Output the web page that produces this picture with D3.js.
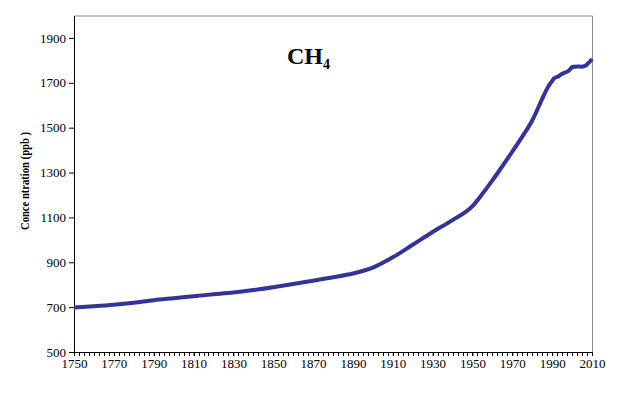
<!DOCTYPE html>
<html>
<head>
<meta charset="utf-8">
<script src="https://cdn.jsdelivr.net/npm/d3@7"></script>
<style>
  body { margin: 0; background: #fff; }
  svg text { font-family: 'Liberation Serif', 'Times New Roman', serif; fill: #000; }
</style>
</head>
<body>
<svg id="chart" width="620" height="397"></svg>
<script>
(function () {

'use strict';

var years = [1750, 1760, 1770, 1780, 1790, 1800, 1810, 1820, 1830, 1840,
             1850, 1860, 1870, 1880, 1890, 1900, 1910, 1920, 1930, 1940,
             1950, 1955, 1960, 1965, 1970, 1975, 1980, 1985, 1988, 1990,
             1991, 1993, 1995, 1997, 1998, 1999, 2000, 2001, 2003, 2005,
             2006, 2007, 2008, 2009, 2010];
var ch4 = [698, 704, 711, 720, 731, 740, 749, 757, 765, 776,
           789, 803, 818, 833, 850, 876, 922, 978, 1035, 1088,
           1150, 1205, 1265, 1328, 1393, 1460, 1532, 1628, 1682, 1708,
           1720, 1728, 1740, 1748, 1752, 1760, 1770, 1772, 1773, 1772,
           1774, 1778, 1787, 1795, 1807];
var xTicks = d3.range(1750, 2011, 20);
var yTicks = [500, 700, 900, 1100, 1300, 1500, 1700, 1900];

var lineColor = '#333399',
    margin = {top: 15.5, right: 28, bottom: 45, left: 74},
    width = 620 - margin.left - margin.right,
    height = 397 - margin.top - margin.bottom;

var svg = d3.select('#chart');
var g = svg.append('g')
    .attr('transform', 'translate(' + margin.left + ',' + margin.top + ')');

var x = d3.scaleLinear().domain([1750, 2010]).range([0, width]);
var y = d3.scaleLinear().domain([500, 2000]).range([height, 0]);

// top and right frame
g.append('path')
  .attr('d', 'M0.5,0.5H' + (width + 0.5) + 'V' + height)
  .attr('fill', 'none')
  .attr('stroke', '#888')
  .attr('stroke-width', 1);

// minor ticks every 2.5 years
g.append('g')
  .attr('transform', 'translate(0,' + height + ')')
  .selectAll('line')
  .data(d3.range(1750, 2010.1, 2.5))
  .enter()
  .append('line')
  .attr('x1', function(d) { return Math.round(x(d)) + 0.5; })
  .attr('x2', function(d) { return Math.round(x(d)) + 0.5; })
  .attr('y1', 0)
  .attr('y2', 4)
  .attr('stroke', '#000');

var xAxis = g.append('g')
  .attr('transform', 'translate(0,' + height + ')')
  .call(d3.axisBottom(x).tickValues(xTicks).tickFormat(d3.format('d')).tickSize(4).tickSizeOuter(0));

var yAxis = g.append('g')
  .call(d3.axisLeft(y).tickValues(yTicks).tickFormat(d3.format('d')).tickSize(5).tickSizeOuter(0));

[xAxis, yAxis].forEach(function (a) {
  a.attr('font-family', null).attr('font-size', null);
  a.select('.domain').attr('stroke', '#000');
  a.selectAll('.tick line').attr('stroke', '#000');
  a.selectAll('text')
    .style('font-family', "'Liberation Serif', serif")
    .style('font-size', '13px')
    .attr('fill', '#000');
});
xAxis.selectAll('text').attr('y', 7).attr('dy', '0.71em');
yAxis.selectAll('text').attr('x', -8);

var line = d3.line()
  .x(function(d, i) { return x(years[i]); })
  .y(function(d) { return y(d); })
  .curve(d3.curveMonotoneX);

g.append('path')
  .datum(ch4)
  .attr('d', line)
  .attr('fill', 'none')
  .attr('stroke', lineColor)
  .attr('stroke-width', 4)
  .attr('stroke-linejoin', 'round');

// title
var title = svg.append('text')
  .attr('x', 287)
  .attr('y', 64)
  .style('font-size', '24px')
  .style('font-weight', 'bold');
title.append('tspan').text('CH');
title.append('tspan').attr('dy', 5).style('font-size', '14px').text('4');

// y axis title
svg.append('text')
  .attr('transform', 'translate(29,181) rotate(-90)')
  .attr('text-anchor', 'middle')
  .attr('textLength', 98)
  .attr('lengthAdjust', 'spacingAndGlyphs')
  .style('font-size', '12px')
  .style('font-weight', 'bold')
  .text('Conce ntration (ppb )');

})();
</script>
</body>
</html>
